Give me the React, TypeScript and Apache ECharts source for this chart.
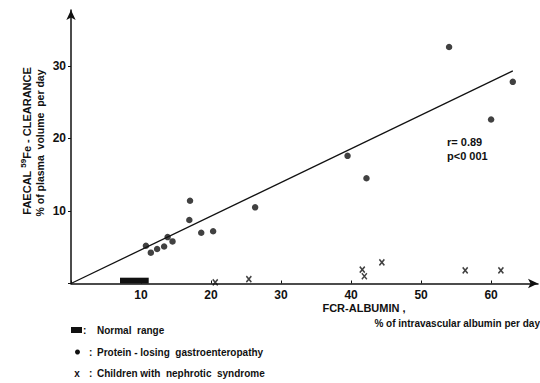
import React, { useEffect, useRef } from "react";
import * as echarts from "echarts";

// FCR-albumin (% intravascular albumin per day) vs faecal 59Fe clearance (% plasma volume per day)
const proteinLosingX = [10.7, 11.4, 12.3, 13.3, 13.8, 14.5, 16.9, 17.0, 18.6, 20.3, 26.3, 39.5, 42.2, 54.0, 60.0, 63.1];
const proteinLosingY = [5.2, 4.25, 4.75, 5.1, 6.4, 5.8, 8.75, 11.4, 7.0, 7.2, 10.5, 17.6, 14.5, 32.6, 22.6, 27.8];
const nephroticX = [20.6, 25.4, 41.6, 41.9, 44.4, 56.3, 61.4];
const nephroticY = [0.15, 0.6, 1.9, 1.0, 2.9, 1.8, 1.8];
const normalRange = [7.0, 11.1];
const regressionX = [0, 63.1];
const regressionY = [0, 29.3];
const xTicks = [10, 20, 30, 40, 50, 60];
const yTicks = [10, 20, 30];
const statsText = ["r= 0.89", "p<0 001"];

const FONT = "Liberation Sans";
const INK = "#111";

export default function App() {
  const ref = useRef<HTMLDivElement>(null);
  useEffect(() => {
    const chart = echarts.init(ref.current!, null, { renderer: "svg" });
    const xMark = "path://M0,0L10,10M10,0L0,10";
    chart.setOption({
      animation: false,
      backgroundColor: "#fff",
      grid: { left: 71, right: 2, top: 10, bottom: 99.5, containLabel: false },
      xAxis: {
        type: "value",
        min: 0,
        max: 66.7,
        interval: 10,
        splitLine: { show: false },
        axisLine: { lineStyle: { color: INK, width: 1.5 }, symbol: ["none", "arrow"], symbolSize: [7, 10] },
        axisTick: { show: true, inside: true, length: 3, lineStyle: { color: INK } },
        axisLabel: {
          color: INK, fontFamily: FONT, fontWeight: "bold", fontSize: 12, margin: 5,
          showMaxLabel: false,
          formatter: (v: number) => (xTicks.includes(v) ? String(v) : ""),
        },
      },
      yAxis: {
        type: "value",
        min: 0,
        max: 37.7,
        interval: 10,
        splitLine: { show: false },
        axisLine: { lineStyle: { color: INK, width: 1.5 }, symbol: ["none", "arrow"], symbolSize: [7, 10] },
        axisTick: { show: true, length: 3, lineStyle: { color: INK } },
        axisLabel: {
          color: INK, fontFamily: FONT, fontWeight: "bold", fontSize: 12, margin: 5,
          showMaxLabel: false,
          formatter: (v: number) => (yTicks.includes(v) ? String(v) : ""),
        },
      },
      series: [
        {
          type: "line",
          data: regressionX.map((x, i) => [x, regressionY[i]]),
          showSymbol: false,
          lineStyle: { color: INK, width: 1.3 },
          z: 1,
          markArea: {
            silent: true,
            itemStyle: { color: INK },
            data: [[{ xAxis: normalRange[0], yAxis: 0 }, { xAxis: normalRange[1], yAxis: 0.8 }]],
          },
        },
        {
          type: "scatter",
          name: "Protein-losing gastroenteropathy",
          data: proteinLosingX.map((x, i) => [x, proteinLosingY[i]]),
          symbol: "circle",
          symbolSize: 6.5,
          itemStyle: { color: INK },
          z: 3,
        },
        {
          type: "scatter",
          name: "Children with nephrotic syndrome",
          data: nephroticX.map((x, i) => [x, nephroticY[i]]),
          symbol: xMark,
          symbolSize: [5, 6],
          itemStyle: { color: "none", borderColor: INK, borderWidth: 1.6 },
          z: 3,
        },
      ],
      graphic: [
        {
          type: "text",
          x: 27,
          y: 141,
          rotation: Math.PI / 2,
          style: {
            text: "{a|FAECAL }{s|59}{a|Fe - CLEARANCE}",
            align: "center",
            verticalAlign: "middle",
            fill: INK,
            rich: {
              a: { fontFamily: FONT, fontSize: 11, fill: INK, fontWeight: "bold" },
              s: { fontFamily: FONT, fontSize: 8, fill: INK, fontWeight: "bold", verticalAlign: "top", lineHeight: 16 },
            },
          },
        },
        {
          type: "text",
          x: 40,
          y: 143,
          rotation: Math.PI / 2,
          style: {
            text: "% of plasma  volume  per day",
            align: "center",
            verticalAlign: "middle",
            fill: INK,
            font: `bold 10.5px "${FONT}"`,
          },
        },
        {
          type: "text",
          x: 364,
          y: 308,
          style: { text: "FCR-ALBUMIN ,", align: "center", verticalAlign: "middle", fill: INK, font: `bold 11px "${FONT}"` },
        },
        {
          type: "text",
          x: 540,
          y: 323,
          style: { text: "% of intravascular albumin per day", align: "right", verticalAlign: "middle", fill: INK, font: `bold 10px "${FONT}"` },
        },
        {
          type: "text",
          x: 447,
          y: 142,
          style: { text: statsText[0], align: "left", verticalAlign: "middle", fill: INK, font: `bold 11px "${FONT}"` },
        },
        {
          type: "text",
          x: 447,
          y: 156,
          style: { text: statsText[1], align: "left", verticalAlign: "middle", fill: INK, font: `bold 11px "${FONT}"` },
        },
        // legend
        { type: "rect", shape: { x: 71, y: 327, width: 11, height: 6 }, style: { fill: INK } },
        { type: "text", x: 83, y: 330, style: { text: ":", verticalAlign: "middle", fill: INK, font: `bold 10px "${FONT}"` } },
        { type: "text", x: 97, y: 330, style: { text: "Normal  range", verticalAlign: "middle", fill: INK, font: `bold 10px "${FONT}"` } },
        { type: "circle", shape: { cx: 77.5, cy: 352, r: 2.5 }, style: { fill: INK } },
        { type: "text", x: 89, y: 352, style: { text: ":", verticalAlign: "middle", fill: INK, font: `bold 10px "${FONT}"` } },
        { type: "text", x: 97, y: 352, style: { text: "Protein - losing  gastroenteropathy", verticalAlign: "middle", fill: INK, font: `bold 10px "${FONT}"` } },
        { type: "text", x: 77, y: 373, style: { text: "x", align: "center", verticalAlign: "middle", fill: INK, font: `bold 10px "${FONT}"` } },
        { type: "text", x: 89, y: 373, style: { text: ":", verticalAlign: "middle", fill: INK, font: `bold 10px "${FONT}"` } },
        { type: "text", x: 97, y: 373, style: { text: "Children with  nephrotic  syndrome", verticalAlign: "middle", fill: INK, font: `bold 10px "${FONT}"` } },
      ],
    });
    return () => chart.dispose();
  }, []);
  return <div ref={ref} style={{ width: 540, height: 383, position: "absolute", left: 0, top: 0 }} />;
}
